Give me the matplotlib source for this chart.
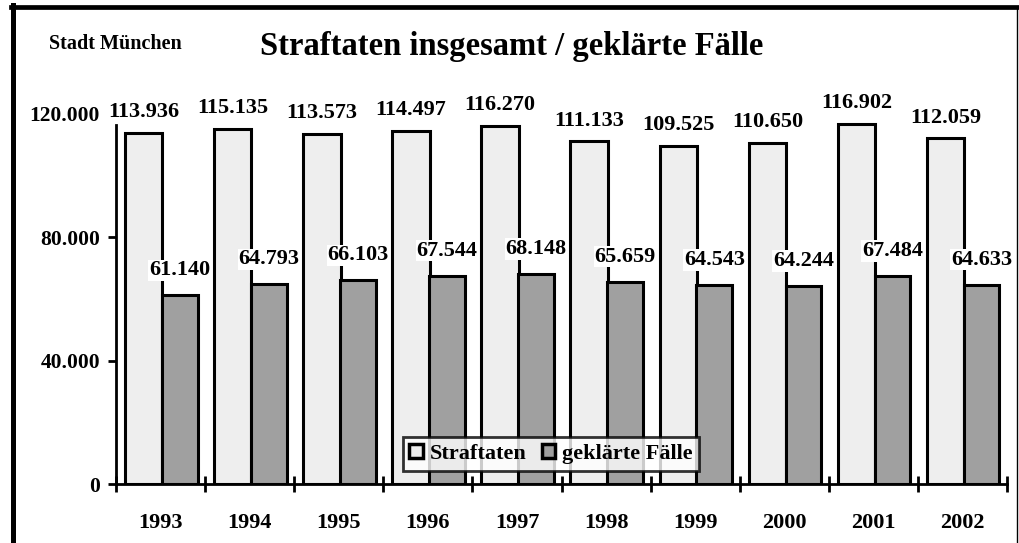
import numpy as np
import matplotlib.pyplot as plt
from matplotlib.lines import Line2D

years = ["1993", "1994", "1995", "1996", "1997", "1998", "1999", "2000", "2001", "2002"]
straftaten = [113936, 115135, 113573, 114497, 116270, 111133, 109525, 110650, 116902, 112059]
geklaert = [61140, 64793, 66103, 67544, 68148, 65659, 64543, 64244, 67484, 64633]
y_ticks = [0, 40000, 80000, 120000]
y_labels = ["0", "40.000", "80.000", "120.000"]

def fmt(v):
    return f"{v:,}".replace(",", ".")

plt.rcParams['font.family'] = ['Liberation Serif', 'DejaVu Serif']
plt.rcParams['font.weight'] = 'bold'

fig = plt.figure(figsize=(10.2, 5.43), dpi=100)
ax = fig.add_axes([116/1020, 59/543, 891/1020, 370/543])

x = np.arange(len(years))
light = "#eeeeee"
dark = "#a0a0a0"
ax.bar(x - 0.19, straftaten, width=0.42, color=light, edgecolor="black", linewidth=2.2,
       label="Straftaten", zorder=2)
ax.bar(x + 0.215, geklaert, width=0.40, color=dark, edgecolor="black", linewidth=2.2,
       label="geklärte Fälle", zorder=2)

for xi, v in zip(x - 0.19, straftaten):
    ax.annotate(fmt(v), (xi, v), xytext=(0, 15), textcoords="offset points",
                ha="center", va="center", fontsize=16, fontweight="bold", zorder=5,
                bbox=dict(facecolor="white", edgecolor="none", pad=0.5), annotation_clip=False)
for xi, v in zip(x + 0.215, geklaert):
    ax.annotate(fmt(v), (xi, v), xytext=(0, 18), textcoords="offset points",
                ha="center", va="center", fontsize=16, fontweight="bold", zorder=5,
                bbox=dict(facecolor="white", edgecolor="none", pad=0.5), annotation_clip=False)

ax.set_xlim(-0.5, len(years) - 0.5)
ax.set_ylim(0, 120000)
ax.set_yticks(y_ticks)
ax.set_yticklabels(y_labels, fontsize=15.5, fontweight="bold")
ax.set_xticks(x)
ax.set_xticklabels(years, fontsize=16, fontweight="bold")
ax.set_xticks(np.arange(-0.5, len(years)), minor=True)
ax.tick_params(axis="x", which="major", length=0, pad=21)
ax.tick_params(axis="x", which="minor", direction="inout", length=11, width=2)
ax.tick_params(axis="y", direction="out", length=5.5, width=2, pad=6)
ax.yaxis.get_major_ticks()[-1].tick1line.set_visible(False)

for s in ["top", "right"]:
    ax.spines[s].set_visible(False)
ax.spines["left"].set_linewidth(2)
ax.spines["bottom"].set_linewidth(2)
ax.spines["left"].set_bounds(0, 116500)

leg = ax.legend(loc="center", bbox_to_anchor=(0.488, 0.081), ncol=2,
                frameon=True, fancybox=False, shadow=False, handlelength=0.6,
                handleheight=0.6, handletextpad=0.3, columnspacing=0.7,
                borderpad=0.3, prop={"weight": "bold", "size": 16})
leg.get_frame().set_edgecolor("black")
leg.get_frame().set_linewidth(2)
leg.set_zorder(6)
for h in leg.legend_handles:
    h.set_linewidth(2.5)

fig.text(512/1020, 1 - 47/543, "Straftaten insgesamt / geklärte Fälle", ha="center",
         va="center", fontsize=23.5, fontweight="bold")
fig.text(49/1020, 1 - 44/543, "Stadt München", ha="left", va="center",
         fontsize=14.5, fontweight="bold")

# Rahmen
fig.add_artist(Line2D([13.5/1020, 13.5/1020], [0, 1 - 5/543], color="black", linewidth=3.6,
                      transform=fig.transFigure))
fig.add_artist(Line2D([11/1020, 1017/1020], [1 - 7/543, 1 - 7/543], color="black", linewidth=3.4,
                      transform=fig.transFigure))
fig.add_artist(Line2D([1017/1020, 1017/1020], [0, 1 - 7/543], color="black", linewidth=1,
                      transform=fig.transFigure))

fig.savefig("out.png", dpi=100)
